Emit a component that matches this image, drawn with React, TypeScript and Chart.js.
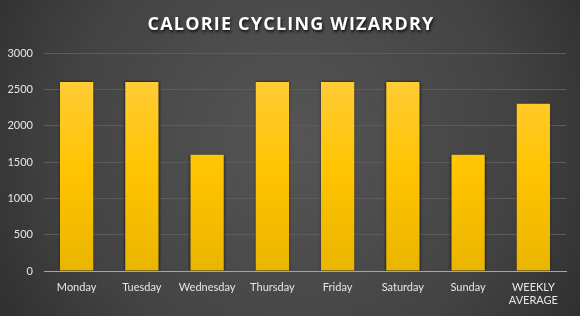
import React, { useEffect, useRef } from "react";
import { Chart, registerables } from "chart.js";

Chart.register(...registerables);

const TITLE = "CALORIE CYCLING WIZARDRY";
const DAYS: (string | string[])[] = [
  "Monday",
  "Tuesday",
  "Wednesday",
  "Thursday",
  "Friday",
  "Saturday",
  "Sunday",
  ["WEEKLY", "AVERAGE"],
];
const CALORIES = [2600, 2600, 1600, 2600, 2600, 2600, 1600, 2300];
const Y_MIN = 0;
const Y_MAX = 3000;
const Y_STEP = 500;

const FONT = "Lato, 'Open Sans', sans-serif";

// Dark radial backdrop behind everything
const backdrop = {
  id: "backdrop",
  beforeDraw(chart: any) {
    const { ctx, width, height } = chart;
    ctx.save();
    const g = ctx.createRadialGradient(width / 2, height * 0.45, 20, width / 2, height * 0.45, width * 0.62);
    g.addColorStop(0, "#545454");
    g.addColorStop(0.6, "#434343");
    g.addColorStop(1, "#2c2c2c");
    ctx.fillStyle = g;
    ctx.fillRect(0, 0, width, height);
    ctx.restore();
  },
};

// Spaced-out heading with a soft drop shadow
const heading = {
  id: "heading",
  afterDraw(chart: any) {
    const { ctx, width } = chart;
    ctx.save();
    ctx.font = `bold 18px 'Open Sans', sans-serif`;
    (ctx as any).letterSpacing = "1.2px";
    ctx.textAlign = "center";
    ctx.textBaseline = "middle";
    ctx.shadowColor = "rgba(0,0,0,0.8)";
    ctx.shadowBlur = 3;
    ctx.shadowOffsetX = 1;
    ctx.shadowOffsetY = 2;
    ctx.fillStyle = "#ffffff";
    ctx.fillText(TITLE, width / 2 + 1, 25);
    ctx.restore();
  },
};

// Shadow outline around the bars
const barShadow = {
  id: "barShadow",
  beforeDatasetsDraw(chart: any) {
    const ctx = chart.ctx;
    ctx.save();
    ctx.shadowColor = "rgba(0,0,0,0.75)";
    ctx.shadowBlur = 3;
    ctx.shadowOffsetX = 0;
    ctx.shadowOffsetY = 0;
  },
  afterDatasetsDraw(chart: any) {
    chart.ctx.restore();
  },
};

export default function App() {
  const ref = useRef<HTMLCanvasElement>(null);

  useEffect(() => {
    if (!ref.current) return;
    const chart = new Chart(ref.current, {
      type: "bar",
      data: {
        labels: DAYS as any,
        datasets: [
          {
            data: CALORIES,
            backgroundColor: (c: any) => {
              const area = c.chart.chartArea;
              if (!area) return "#FFC000";
              const g = c.chart.ctx.createLinearGradient(0, area.top, 0, area.bottom);
              g.addColorStop(0, "#FFCF45");
              g.addColorStop(0.55, "#FFC400");
              g.addColorStop(1, "#EAB500");
              return g;
            },
            borderWidth: 0,
            barPercentage: 0.51,
            categoryPercentage: 1,
          },
        ],
      },
      options: {
        animation: false,
        responsive: false,
        layout: { padding: { top: 53, right: 14, bottom: 0, left: 0 } },
        plugins: {
          legend: { display: false },
          title: { display: false },
          tooltip: { enabled: false },
        },
        scales: {
          x: {
            grid: { display: false, drawTicks: false },
            border: { display: true, color: "#a6a6a6", width: 1 },
            ticks: {
              color: "#e6e6e6",
              font: { family: FONT, size: 11 },
              padding: 10,
              maxRotation: 0,
              autoSkip: false,
            },
            afterFit(scale: any) {
              scale.height = 45;
            },
          },
          y: {
            min: Y_MIN,
            max: Y_MAX,
            ticks: {
              stepSize: Y_STEP,
              color: "#e6e6e6",
              font: { family: FONT, size: 11 },
              padding: 11,
              callback: (v: any) => String(v),
            },
            grid: { color: "#5c5c5c", lineWidth: 1, drawTicks: false },
            border: { display: false },
            afterFit(scale: any) {
              scale.width = 44;
            },
          },
        },
      },
      plugins: [backdrop, barShadow, heading],
    });
    return () => chart.destroy();
  }, []);

  return (
    <div style={{ position: "fixed", left: 0, top: 0, width: 580, height: 316 }}>
      <canvas ref={ref} width={580} height={316} />
    </div>
  );
}
